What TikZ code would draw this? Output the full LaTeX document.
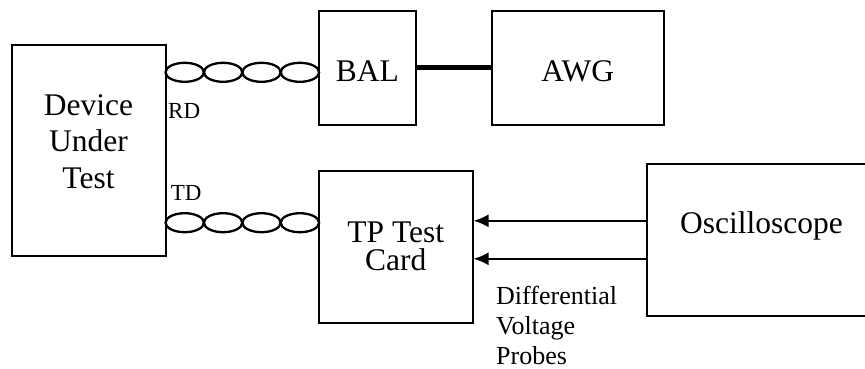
\documentclass[tikz,border=0pt]{standalone}
\usepackage{fontspec}
\setmainfont{Liberation Serif}
\usetikzlibrary{arrows.meta,shapes.geometric}

\begin{document}
\begin{tikzpicture}[x=1pt,y=-1pt,every path/.style={>={Latex[length=15pt,width=13pt]}},
	box/.style={draw,rectangle,line width=2pt,align=center,inner sep=0pt,font=\fontsize{31.5}{36.5}\selectfont},
	twist/.style={draw,ellipse,line width=2.3pt,minimum width=38.4pt,minimum height=19pt,inner sep=0pt},
	small/.style={inner sep=0pt,anchor=base west,align=left}]
		\clip (0,0) rectangle (865,368);

		% draw boxes
		\node (dut) at (88.5,150) [box,minimum width=154pt,minimum height=211pt,text height=76.6pt,text depth=0pt] {Device\\Under\\Test};
		\node (bal) at (367.3,67.8) [box,minimum width=96.5pt,minimum height=113.5pt,text height=26.4pt,text depth=0pt] {BAL};
		\node (awg) at (577.8,67.8) [box,minimum width=171.5pt,minimum height=113.5pt,text height=26.4pt,text depth=0pt] {AWG};
		\node (tp) at (395.8,247) [box,minimum width=153.5pt,minimum height=152pt,text height=47.4pt,text depth=0pt,font=\fontsize{31.5}{28.4}\selectfont] {TP Test\\Card};
		\node (scope) at (761.5,239.8) [box,minimum width=230pt,minimum height=152.5pt,text height=21pt,text depth=34pt] {Oscilloscope};

		% draw twisted pairs
		\foreach \i in {0,...,3}
		{
			\node (rd-\i) at (165.5+38.4*\i+19.2,72.3) [twist] {};
			\node (td-\i) at (165.5+38.4*\i+19.2,222.7) [twist] {};
		}

		% draw pair labels
		\node (rd) at (168,118) [small,font=\fontsize{23}{26}\selectfont] {RD};
		\node (td) at (170.7,200.7) [small,font=\fontsize{23}{26}\selectfont] {TD};

		% draw line from BAL to AWG
		\draw[line width=5pt] (bal) -- (awg);

		% draw probes from oscilloscope to test card
		\coordinate (probe-1) at ([yshift=19pt]scope.west);
		\coordinate (probe-2) at ([yshift=-19pt]scope.west);
		\draw[->,line width=2pt] (probe-1) -- (tp.east |- probe-1);
		\draw[->,line width=2pt] (probe-2) -- (tp.east |- probe-2);
		\node (probes) at (496,364) [small,font=\fontsize{26}{30}\selectfont] {Differential\\Voltage\\Probes};
	\end{tikzpicture}
\end{document}
